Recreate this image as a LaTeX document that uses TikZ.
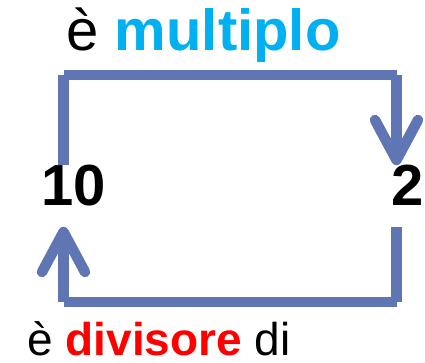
\documentclass[tikz,border=0pt]{standalone}
\usepackage{fontspec}
\setmainfont{Liberation Sans}
\definecolor{linkblue}{RGB}{96,118,180}
\definecolor{multcyan}{RGB}{0,176,240}
\definecolor{divred}{RGB}{255,0,0}
\begin{document}
\begin{tikzpicture}[x=1pt,y=-1pt,
  conn/.style={draw=linkblue,line width=10.5pt,line cap=butt},
  head/.style={draw=linkblue,line width=10.5pt,line cap=round,line join=round},
  num/.style={inner sep=0pt,anchor=base,font=\fontsize{58}{60}\selectfont\bfseries},
  lbl/.style={inner sep=0pt,anchor=base}]
\useasboundingbox (0,0) rectangle (425,362);
% labels
\node[lbl,font=\fontsize{58}{60}\selectfont] (top) at (203.5,50) {è \textcolor{multcyan}{\bfseries multiplo}};
\node[lbl,font=\fontsize{46}{48}\selectfont] (bot) at (159,355) {è \textcolor{divred}{\bfseries divisore} di};
% numbers
\node[num] (ten) at (74,205) {10};
\node[num] (two) at (408,205) {2};
% top connector: 10 -> 2
\coordinate (a1) at (63.5,165);
\coordinate (a2) at (63.5,75);
\coordinate (a3) at (64,75);
\coordinate (a4) at (397,75);
\coordinate (a5) at (396.5,75);
\coordinate (a6) at (396.5,160);
\path[conn] (a1) -- (a2) (a3) -- (a4) (a5) -- (a6);
\path[head] (a6) ++(-21.5,-40) -- (a6) -- ++(21.5,-40);
% bottom connector: 2 -> 10
\coordinate (b1) at (396.5,227);
\coordinate (b2) at (396.5,302);
\coordinate (b3) at (397,302);
\coordinate (b4) at (64,302);
\coordinate (b5) at (63.5,302);
\coordinate (b6) at (63.5,232);
\path[conn] (b1) -- (b2) (b3) -- (b4) (b5) -- (b6);
\path[head] (b6) ++(-21.5,40) -- (b6) -- ++(21.5,40);
\end{tikzpicture}
\end{document}
